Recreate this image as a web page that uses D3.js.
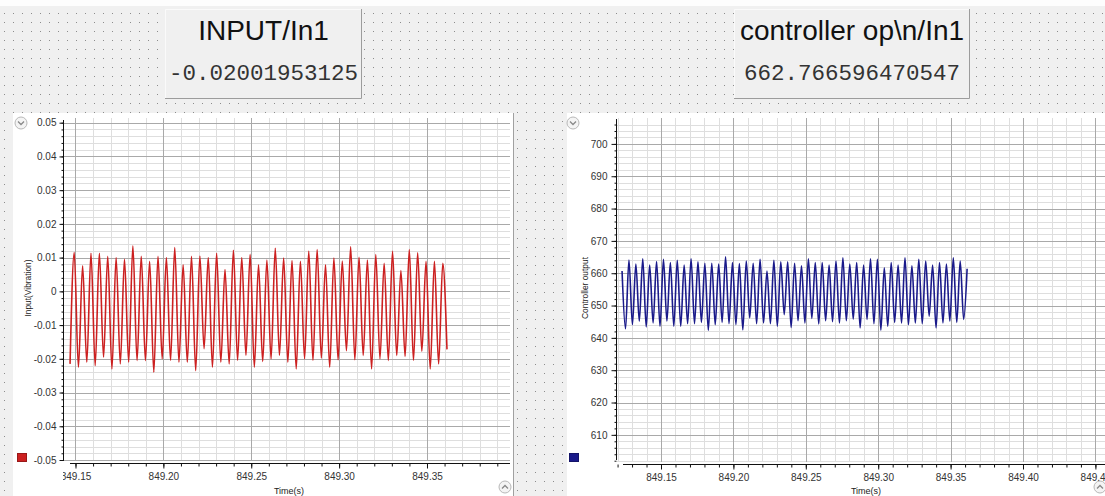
<!DOCTYPE html>
<html>
<head>
<meta charset="utf-8">
<script src="https://cdn.jsdelivr.net/npm/d3@7"></script>
<style>
  body { margin: 0; background: #fff; }
  svg { display: block; font-family: Arial, "Liberation Sans", sans-serif; }
</style>
</head>
<body>
<div id="view"></div>
<script>
var width = 1105;
var height = 496;

// numeric indicators at the top
var titles = ["INPUT/In1", "controller op\\n/In1"];
var readouts = ["-0.02001953125", "662.766596470547"];

// time between two successive extrema of the signal (s)
var halfStep = 0.002383;

// left scope: Input(Vibration), starts on a trough
var redStart = 849.1469;
var redTroughs = [-0.0215, -0.0225, -0.021, -0.022, -0.0195, -0.023, -0.0215, -0.021, -0.0205, -0.0205,
                  -0.024, -0.020, -0.0205, -0.021, -0.021, -0.0235, -0.017, -0.0225, -0.021, -0.0215,
                  -0.0205, -0.019, -0.0225, -0.0208, -0.020, -0.019, -0.021, -0.023, -0.020, -0.0205,
                  -0.0198, -0.0225, -0.0203, -0.0176, -0.0203, -0.019, -0.023, -0.020, -0.0205, -0.019,
                  -0.0193, -0.0205, -0.0178, -0.023, -0.0215, -0.0172];
var redPeaks = [0.0115, 0.0076, 0.0113, 0.0113, 0.0104, 0.0100, 0.0095, 0.0135, 0.0104, 0.0089,
                0.0104, 0.0100, 0.0130, 0.0079, 0.0104, 0.0105, 0.0100, 0.0113, 0.0065, 0.0122,
                0.0100, 0.0110, 0.0079, 0.0093, 0.0128, 0.0099, 0.0091, 0.0089, 0.0119, 0.0124,
                0.0079, 0.0099, 0.0090, 0.0132, 0.0101, 0.0093, 0.0109, 0.0083, 0.0119, 0.0062,
                0.0124, 0.0114, 0.0089, 0.0089, 0.0083];
var leftYTicks = [0.05, 0.04, 0.03, 0.02, 0.01, 0, -0.01, -0.02, -0.03, -0.04, -0.05];
var leftXTicks = [849.15, 849.20, 849.25, 849.30, 849.35];

// right scope: Controller output, starts on a peak
var blueStart = 849.1231;
var bluePeaks = [660.7, 664.1, 662.8, 664.5, 662.5, 663.6, 664.3, 663.3, 664.0, 662.5,
                 664.5, 663.5, 663.1, 663.1, 662.8, 665.1, 663.3, 663.0, 663.8, 663.1,
                 664.3, 660.7, 664.0, 663.5, 663.5, 663.1, 662.3, 664.5, 663.3, 663.3,
                 662.5, 663.8, 664.8, 662.8, 663.3, 662.5, 664.5, 664.3, 661.7, 663.3,
                 662.5, 664.8, 662.3, 664.3, 663.8, 662.5, 663.3, 662.8, 664.8, 663.8, 661.4];
var blueTroughs = [642.8, 644.1, 645.2, 643.4, 644.6, 643.6, 645.2, 643.6, 643.6, 644.4,
                   644.4, 644.8, 642.3, 644.1, 644.8, 644.4, 644.1, 642.5, 646.2, 644.4,
                   644.6, 644.4, 643.6, 647.2, 643.2, 645.3, 644.6, 646.0, 644.3, 645.3,
                   645.0, 644.6, 645.3, 645.8, 643.1, 645.7, 644.4, 642.4, 643.6, 644.8,
                   644.6, 644.1, 644.6, 644.4, 646.7, 643.1, 644.6, 645.2, 644.8, 645.7];
var rightYTicks = [700, 690, 680, 670, 660, 650, 640, 630, 620, 610];
var rightXTicks = [849.15, 849.20, 849.25, 849.30, 849.35, 849.40, 849.45];

function interleave(a, b) {
    var out = [];
    for (var i = 0; i < a.length; i++) {
        out.push(a[i]);
        if (i < b.length) out.push(b[i]);
    }
    return out;
}

function toPoints(start, values) {
    return values.map(function (v, i) {
        return { t: start + i * halfStep, v: v };
    });
}

// every multiple of step inside the domain
function steps(domain, step) {
    var lo = Math.min(domain[0], domain[1]), hi = Math.max(domain[0], domain[1]);
    return d3.range(Math.ceil(lo / step - 1e-6), Math.floor(hi / step + 1e-6) + 1)
        .map(function (i) { return i * step; });
}

var svg = d3.select('#view')
    .append('svg')
    .attr('width', width)
    .attr('height', height);

var defs = svg.append('defs');
var pat = defs.append('pattern')
    .attr('id', 'dots')
    .attr('width', 9)
    .attr('height', 9)
    .attr('patternUnits', 'userSpaceOnUse');
pat.append('rect').attr('width', 9).attr('height', 9).attr('fill', '#f0f0f0');
pat.append('rect').attr('x', 4).attr('y', 4).attr('width', 1).attr('height', 1).attr('fill', '#8c8c8c');

// dotted work area
svg.append('rect').attr('width', width).attr('height', 6).attr('fill', '#fdfdfd');
svg.append('rect').attr('y', 6).attr('width', width).attr('height', height - 6).attr('fill', 'url(#dots)');

// indicator boxes
var boxes = [{ x: 165, w: 197 }, { x: 734, w: 236 }];
boxes.forEach(function (b, i) {
    var g = svg.append('g').attr('transform', 'translate(' + b.x + ',9)');
    g.append('rect').attr('width', b.w).attr('height', 90).attr('fill', '#f0f0f0');
    g.append('path')
        .attr('d', 'M0.5,90 V0.5 H' + (b.w - 0.5))
        .attr('fill', 'none').attr('stroke', '#fafafa');
    g.append('path')
        .attr('d', 'M' + (b.w - 0.5) + ',0 V' + (89.5) + ' H0')
        .attr('fill', 'none').attr('stroke', '#9c9c9c');
    g.append('text')
        .attr('x', b.w / 2).attr('y', 31)
        .attr('text-anchor', 'middle')
        .attr('font-size', 28)
        .attr('fill', '#111')
        .text(titles[i]);
    g.append('text')
        .attr('x', b.w / 2).attr('y', 71)
        .attr('text-anchor', 'middle')
        .attr('font-family', '"Courier New", "Liberation Mono", monospace')
        .attr('font-size', 22.5)
        .attr('fill', '#333')
        .text(readouts[i]);
});

// white scope panels
svg.append('rect').attr('x', 13).attr('y', 113).attr('width', 500).attr('height', 383).attr('fill', '#fff');
svg.append('line').attr('x1', 513.5).attr('x2', 513.5).attr('y1', 113).attr('y2', 496).attr('stroke', '#a0a0a0');
svg.append('rect').attr('x', 567).attr('y', 113).attr('width', 538).attr('height', 383).attr('fill', '#fff');

function button(cx, cy, up) {
    var g = svg.append('g').attr('transform', 'translate(' + cx + ',' + cy + ')');
    g.append('circle').attr('r', 6).attr('fill', '#f4f4f4').attr('stroke', '#b8b8b8');
    g.append('path')
        .attr('d', up ? 'M-3,1.5 L0,-1.5 L3,1.5' : 'M-3,-1.5 L0,1.5 L3,-1.5')
        .attr('fill', 'none').attr('stroke', '#888').attr('stroke-width', 1.3);
}
button(21, 123, false);
button(573, 123, false);
button(505, 487, true);
button(1100, 487, true);

function drawChart(cfg) {
    var g = svg.append('g');
    var x = d3.scaleLinear().domain(cfg.xDomain).range([cfg.left, cfg.right]);
    var y = d3.scaleLinear().domain(cfg.yDomain).range([cfg.bottom, cfg.top]);
    var px = function (v) { return Math.round(v) + 0.5; };

    var clipId = 'clip' + cfg.id;
    defs.append('clipPath').attr('id', clipId)
        .append('rect')
        .attr('x', cfg.left).attr('y', cfg.gridTop)
        .attr('width', cfg.right - cfg.left).attr('height', cfg.bottom - cfg.gridTop + 1);

    var grid = g.append('g').attr('clip-path', 'url(#' + clipId + ')');
    var xMinor = steps(cfg.xDomain, 0.01);
    var yMinor = steps(cfg.yDomain, cfg.yMinorStep);

    // minor grid
    grid.selectAll('.hminor').data(yMinor).enter().append('line')
        .attr('x1', cfg.left).attr('x2', cfg.right)
        .attr('y1', function (d) { return px(y(d)); })
        .attr('y2', function (d) { return px(y(d)); })
        .attr('stroke', '#dedede');
    grid.selectAll('.vminor').data(xMinor).enter().append('line')
        .attr('y1', cfg.gridTop).attr('y2', cfg.bottom)
        .attr('x1', function (d) { return px(x(d)); })
        .attr('x2', function (d) { return px(x(d)); })
        .attr('stroke', '#dedede');

    // major grid
    grid.selectAll('.hmajor').data(cfg.yTicks).enter().append('line')
        .attr('x1', cfg.left).attr('x2', cfg.right)
        .attr('y1', function (d) { return px(y(d)); })
        .attr('y2', function (d) { return px(y(d)); })
        .attr('stroke', '#a9a9a9');
    grid.selectAll('.vmajor').data(cfg.xTicks).enter().append('line')
        .attr('y1', cfg.gridTop).attr('y2', cfg.bottom)
        .attr('x1', function (d) { return px(x(d)); })
        .attr('x2', function (d) { return px(x(d)); })
        .attr('stroke', '#a9a9a9');

    // signal
    var line = d3.line()
        .x(function (d) { return x(d.t); })
        .y(function (d) { return y(d.v); })
        .curve(d3.curveMonotoneX);
    grid.append('path')
        .datum(cfg.data)
        .attr('d', line)
        .attr('fill', 'none')
        .attr('stroke', cfg.color)
        .attr('stroke-width', 1.6)
        .attr('stroke-linejoin', 'round');

    // y axis
    var yAxis = g.append('g')
        .attr('transform', 'translate(' + (cfg.left - 0.5) + ',0)');
    yAxis.call(d3.axisLeft(y).tickValues(yMinor).tickSize(2).tickSizeOuter(0).tickFormat(''));
    yAxis.append('g').call(d3.axisLeft(y)
        .tickValues(cfg.yTicks).tickSize(cfg.yTickSize).tickPadding(cfg.yPad).tickSizeOuter(0)
        .tickFormat(cfg.yFormat));
    yAxis.selectAll('.domain').attr('d', 'M0,' + cfg.yAxisTop + 'V' + cfg.yAxisBottom);

    // x axis, labels clipped at the left edge of the plot
    defs.append('clipPath').attr('id', clipId + 'x')
        .append('rect')
        .attr('x', cfg.left - 1).attr('y', cfg.axisY - 4)
        .attr('width', cfg.right - cfg.left + 20).attr('height', 30);
    var xAxis = g.append('g')
        .attr('clip-path', 'url(#' + clipId + 'x)')
        .append('g')
        .attr('transform', 'translate(0,' + (cfg.axisY + 0.5) + ')');
    xAxis.append('g').call(d3.axisBottom(x).tickValues(xMinor).tickSize(3).tickSizeOuter(0).tickFormat(''));
    xAxis.append('g').call(d3.axisBottom(x)
        .tickValues(cfg.xTicks).tickSize(5).tickPadding(4).tickSizeOuter(0)
        .tickFormat(d3.format('.2f')));
    xAxis.selectAll('.domain').attr('d', 'M' + (cfg.left + 6) + ',0H' + cfg.right);

    g.selectAll('.tick text').attr('font-size', 10).attr('fill', '#333')
        .attr('font-family', 'Arial, "Liberation Sans", sans-serif');
    g.selectAll('.domain, .tick line').attr('stroke', '#111');

    // axis titles
    g.append('text')
        .attr('x', (cfg.left + Math.min(cfg.right, width)) / 2 + cfg.xTitleShift)
        .attr('y', 494)
        .attr('text-anchor', 'middle')
        .attr('font-size', 9)
        .attr('fill', '#222')
        .text('Time(s)');
    g.append('text')
        .attr('transform', 'translate(' + cfg.yTitleX + ',' + 288 + ') rotate(-90)')
        .attr('text-anchor', 'middle')
        .attr('font-size', 8.4)
        .attr('fill', '#222')
        .text(cfg.yTitle);

    // legend key
    g.append('rect')
        .attr('x', cfg.keyX + 0.5).attr('y', 453.5)
        .attr('width', 9).attr('height', 8)
        .attr('fill', cfg.color)
        .attr('stroke', d3.color(cfg.color).darker(0.8));
}

drawChart({
    id: 'L',
    left: 64, right: 510, top: 122.7, bottom: 460, gridTop: 118,
    xDomain: [849.14346, 849.39723],
    yDomain: [-0.05, 0.05],
    yMinorStep: 0.002,
    xTicks: leftXTicks, yTicks: leftYTicks,
    yFormat: function (d) { return d === 0 ? '0' : d.toFixed(2); },
    yTickSize: 4, yPad: 3,
    yAxisTop: 120, yAxisBottom: 461,
    axisY: 463,
    data: toPoints(redStart, interleave(redTroughs, redPeaks)),
    color: '#cc2020',
    yTitle: 'Input(Vibration)', yTitleX: 31,
    xTitleShift: 2,
    keyX: 17
});

drawChart({
    id: 'R',
    left: 617, right: 1110, top: 120, bottom: 462, gridTop: 118,
    xDomain: [849.11961, 849.46008],
    yDomain: [601.6, 707.4],
    yMinorStep: 2,
    xTicks: rightXTicks, yTicks: rightYTicks,
    yFormat: d3.format('d'),
    yTickSize: 5, yPad: 4,
    yAxisTop: 119, yAxisBottom: 460,
    axisY: 464,
    data: toPoints(blueStart, interleave(bluePeaks, blueTroughs)),
    color: '#1a1a8a',
    yTitle: 'Controller output', yTitleX: 588,
    xTitleShift: 5,
    keyX: 569
});
</script>
</body>
</html>
